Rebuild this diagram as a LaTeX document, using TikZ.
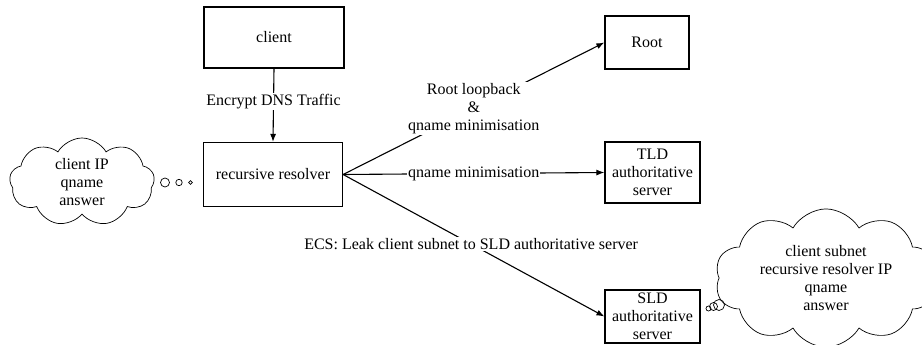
\documentclass[tikz,border=0pt]{standalone}
\usepackage{fontspec}
\setmainfont{Liberation Serif}
\usetikzlibrary{shapes.symbols,arrows.meta}

\begin{document}
\begin{tikzpicture}[x=1pt,y=-1pt,
  txt/.style={font=\fontsize{16}{18}\selectfont},
  box/.style={txt,draw,line width=1.2pt,inner sep=0pt,align=center},
  conn/.style={line width=1.1pt,-{Latex[length=8pt,width=6pt]}},
  lbl/.style={txt,fill=white,inner sep=1pt,align=center},
  thought/.style={txt,draw,cloud,cloud puff arc=120,
    line width=0.7pt,inner sep=0pt,align=center},
  bubble/.style={draw,line width=0.7pt}]
\useasboundingbox (0,0) rectangle (922,345);

% hosts
\node[box,minimum width=140pt,minimum height=61pt] (client) at (274,37.5) {client};
\node[box,minimum width=139pt,minimum height=64pt] (res) at (273,174.5) {recursive resolver};
\node[box,minimum width=84pt,minimum height=53pt] (root) at (647,42.5) {Root};
\node[box,minimum width=95pt,minimum height=61pt] (tld) at (652.5,172.5) {TLD\\authoritative\\server};
\node[box,minimum width=95pt,minimum height=53pt] (sld) at (652.5,316.5) {SLD\\authoritative\\server};

% queries
\draw[conn] (client.south) -- node[lbl,pos=0.45] {Encrypt DNS Traffic} (res.north);
\draw[conn] (res.east) -- node[lbl] {Root loopback\\\&\\qname minimisation} (root.west);
\draw[conn] (res.east) -- node[lbl] {qname minimisation} (tld.west);
\draw[conn] (res.east) -- node[lbl,pos=0.49] {ECS: Leak client subnet to SLD authoritative server} (sld.west);

% what the resolver learns
\node[thought,cloud puffs=9,minimum width=145pt,minimum height=88pt,aspect=1.6] (cl) at (82,182) {client IP\\qname\\answer};
\node[bubble,circle,inner sep=0pt,minimum size=9pt] (b1) at (165,182.5) {};
\node[bubble,circle,inner sep=0pt,minimum size=6.4pt] (b2) at (179,182.5) {};
\node[bubble,circle,inner sep=0pt,minimum size=3.6pt] (b3) at (190.5,182.5) {};

% what the SLD server learns
\node[thought,cloud puffs=10,minimum width=222pt,minimum height=130pt,aspect=1.7] (cr) at (826,278) {client subnet\\recursive resolver IP\\qname\\answer};
\node[bubble,circle,inner sep=0pt,minimum size=11pt] (c3) at (719,305) {};
\node[bubble,circle,inner sep=0pt,minimum size=8pt] (c2) at (713.5,306.5) {};
\node[bubble,circle,inner sep=0pt,minimum size=5pt] (c1) at (708.5,308.5) {};
\end{tikzpicture}
\end{document}
